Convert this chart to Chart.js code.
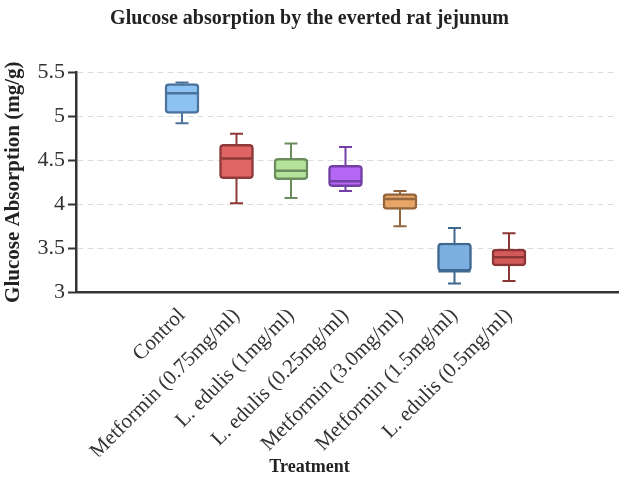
<!DOCTYPE html>
<html>
<head>
<meta charset="utf-8">
<title>Glucose absorption by the everted rat jejunum</title>
<script src="https://cdn.jsdelivr.net/npm/chart.js"></script>
<style>
    html, body { margin: 0; padding: 0; background: #fff; }
    #wrap { width: 620px; height: 481px; }
</style>
</head>
<body>
<div id="wrap"><canvas id="boxChart" width="620" height="481"></canvas></div>

<script>
    // Treatments, left to right
    const treatments = [
        'Control',
        'Metformin (0.75mg/ml)',
        'L. edulis (1mg/ml)',
        'L. edulis (0.25mg/ml)',
        'Metformin (3.0mg/ml)',
        'Metformin (1.5mg/ml)',
        'L. edulis (0.5mg/ml)'
    ];

    // Box plot statistics (mg/g)
    const whiskerLow  = [4.92, 4.01, 4.07, 4.15, 3.75, 3.10, 3.13];
    const q1          = [5.03, 4.29, 4.28, 4.20, 3.94, 3.24, 3.30];
    const medians     = [5.26, 4.52, 4.38, 4.26, 4.06, 3.24, 3.40];
    const q3          = [5.37, 4.68, 4.52, 4.44, 4.12, 3.56, 3.49];
    const whiskerHigh = [5.38, 4.80, 4.69, 4.65, 4.15, 3.73, 3.67];

    // Y axis ticks
    const yTicks = [3, 3.5, 4, 4.5, 5, 5.5];

    const fillColors   = ['#8cc3f2', '#e06464', '#b3e39a', '#b566f2', '#e9a468', '#7cb0e0', '#d35a5a'];
    const strokeColors = ['#4b739b', '#8f3a3a', '#6b8c5c', '#7341a6', '#94673f', '#3f6890', '#8c3535'];

    const serif = "'Liberation Serif', 'Times New Roman', serif";

    // Whiskers behind the boxes, medians on top
    const boxPlotExtras = {
        id: 'boxPlotExtras',
        beforeDatasetsDraw(chart) {
            const ctx = chart.ctx;
            const xs = chart.scales.x, ys = chart.scales.y;
            ctx.save();
            ctx.lineWidth = 2;
            treatments.forEach((t, i) => {
                const x = xs.getPixelForValue(i);
                const lo = ys.getPixelForValue(whiskerLow[i]);
                const hi = ys.getPixelForValue(whiskerHigh[i]);
                ctx.strokeStyle = strokeColors[i];
                ctx.beginPath();
                ctx.moveTo(x, lo); ctx.lineTo(x, hi);
                ctx.moveTo(x - 6.5, lo); ctx.lineTo(x + 6.5, lo);
                ctx.moveTo(x - 6.5, hi); ctx.lineTo(x + 6.5, hi);
                ctx.stroke();
            });
            ctx.restore();
        },
        afterDatasetsDraw(chart) {
            const ctx = chart.ctx;
            const xs = chart.scales.x, ys = chart.scales.y;
            const bars = chart.getDatasetMeta(0).data;
            ctx.save();
            ctx.lineWidth = 2.5;
            treatments.forEach((t, i) => {
                const x = xs.getPixelForValue(i);
                const half = bars[i].width / 2;
                const m = ys.getPixelForValue(medians[i]);
                ctx.strokeStyle = strokeColors[i];
                ctx.beginPath();
                ctx.moveTo(x - half + 1, m); ctx.lineTo(x + half - 1, m);
                ctx.stroke();
            });
            ctx.restore();
        }
    };

    const ctx = document.getElementById('boxChart').getContext('2d');

    new Chart(ctx, {
        type: 'bar',
        data: {
            datasets: [{
                label: 'Glucose Absorption',
                data: treatments.map((t, i) => ({ x: i, y: [q1[i], q3[i]] })),
                backgroundColor: fillColors,
                borderColor: strokeColors,
                borderWidth: 2.5,
                borderRadius: 4,
                borderSkipped: false,
                barThickness: 34
            }]
        },
        options: {
            responsive: false,
            animation: false,
            layout: { padding: { left: 1, right: 2, top: 0, bottom: 0 } },
            plugins: {
                legend: { display: false },
                tooltip: { enabled: false },
                title: {
                    display: true,
                    text: 'Glucose absorption by the everted rat jejunum',
                    color: '#222',
                    font: { family: serif, size: 20, weight: 'bold' },
                    padding: { top: 7, bottom: 41 }
                },
                subtitle: {
                    display: true,
                    position: 'bottom',
                    text: 'Treatment',
                    color: '#222',
                    font: { family: serif, size: 18, weight: 'bold' },
                    padding: { top: 0, bottom: 3 }
                }
            },
            scales: {
                x: {
                    type: 'linear',
                    offset: false,
                    min: -1.945,
                    max: 8,
                    afterBuildTicks: (scale) => {
                        scale.ticks = treatments.map((t, i) => ({ value: i }));
                    },
                    afterFit: (scale) => { scale.height = 164; },
                    grid: { display: false, drawTicks: false },
                    border: { display: true, color: '#333', width: 2.5 },
                    ticks: {
                        autoSkip: false,
                        minRotation: 45,
                        maxRotation: 45,
                        padding: 11,
                        color: '#333',
                        font: { family: serif, size: 21 },
                        callback: (v) => treatments[v]
                    }
                },
                y: {
                    min: 3,
                    max: 5.5,
                    afterBuildTicks: (scale) => {
                        scale.ticks = yTicks.map(v => ({ value: v }));
                    },
                    afterFit: (scale) => { scale.width = 75; },
                    grid: {
                        color: '#dddddd',
                        lineWidth: 1,
                        tickColor: '#333',
                        tickLength: 8,
                        tickWidth: 2
                    },
                    border: { display: true, color: '#333', width: 2.5, dash: [6, 4] },
                    ticks: {
                        padding: 3,
                        color: '#333',
                        font: { family: serif, size: 22 },
                        callback: (v) => String(v)
                    },
                    title: {
                        display: true,
                        text: 'Glucose Absorption (mg/g)',
                        color: '#222',
                        font: { family: serif, size: 21, weight: 'bold' },
                        padding: { top: 0, bottom: 0 }
                    }
                }
            }
        },
        plugins: [boxPlotExtras]
    });
</script>
</body>
</html>
